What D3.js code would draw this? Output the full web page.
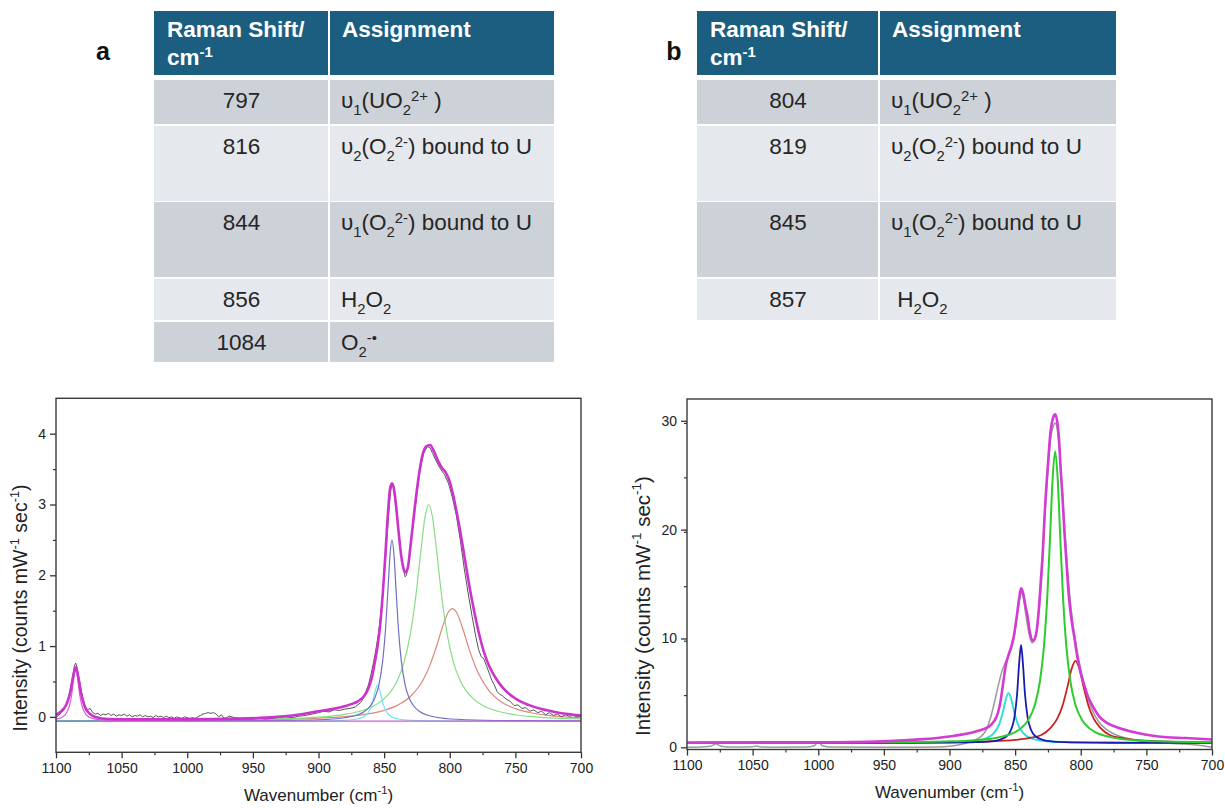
<!DOCTYPE html>
<html>
<head>
<meta charset="utf-8">
<script src="https://cdn.jsdelivr.net/npm/d3@7/dist/d3.min.js"></script>
<style>
  html, body { margin: 0; padding: 0; background: #ffffff; }
  svg { display: block; font-family: "Liberation Sans", Arial, sans-serif; }
</style>
</head>
<body>
<svg id="fig" width="1225" height="808"></svg>
<script>
// ---------------- Table data ----------------
const tableHeader = ["Raman Shift/", "cm", "-1", "Assignment"];
const tableAShift = ["797", "816", "844", "856", "1084"];
const tableAAssign = [
  [["υ"], ["1", "sub"], ["(UO"], ["2", "sub"], ["2+", "sup"], [" )"]],
  [["υ"], ["2", "sub"], ["(O"], ["2", "sub"], ["2-", "sup"], [") bound to U"]],
  [["υ"], ["1", "sub"], ["(O"], ["2", "sub"], ["2-", "sup"], [") bound to U"]],
  [["H"], ["2", "sub"], ["O"], ["2", "sub"]],
  [["O"], ["2", "sub"], ["-•", "sup"]]
];
const tableBShift = ["804", "819", "845", "857"];
const tableBAssign = [
  [["υ"], ["1", "sub"], ["(UO"], ["2", "sub"], ["2+", "sup"], [" )"]],
  [["υ"], ["2", "sub"], ["(O"], ["2", "sub"], ["2-", "sup"], [") bound to U"]],
  [["υ"], ["1", "sub"], ["(O"], ["2", "sub"], ["2-", "sup"], [") bound to U"]],
  [["\u00A0H"], ["2", "sub"], ["O"], ["2", "sub"]]
];

// ---------------- Axis ticks ----------------
const xTicks = [1100, 1050, 1000, 950, 900, 850, 800, 750, 700];
const aYTicks = [0, 1, 2, 3, 4];
const bYTicks = [0, 10, 20, 30];

// ---------------- Spectrum a ----------------
const aMeasured = [[1100,0.0],[1098,0.02],[1096,0.06],[1094,0.1],[1092,0.18],[1090,0.3],[1088,0.5],[1086,0.72],[1085,0.76],[1084,0.7],[1082,0.5],[1080,0.3],[1078,0.16],[1076,0.1],[1074,0.12],[1072,0.06],[1070,0.04],[1068,0.05],[1066,0.02],[1064,0.04],[1062,0.03],[1060,0.05],[1058,0.02],[1056,0.04],[1054,0.01],[1052,0.03],[1050,0.02],[1048,0.04],[1046,0.01],[1044,0.03],[1042,0.0],[1040,0.02],[1038,0.01],[1036,0.03],[1034,0.0],[1032,0.02],[1030,0.0],[1028,0.01],[1026,-0.01],[1024,0.02],[1022,0.0],[1020,0.01],[1018,-0.01],[1016,0.01],[1014,-0.01],[1012,0.0],[1010,-0.02],[1008,0.0],[1006,-0.01],[1004,-0.02],[1002,0.0],[1000,-0.01],[998,-0.02],[996,-0.01],[994,-0.02],[992,0.0],[990,0.02],[988,0.04],[986,0.05],[984,0.06],[982,0.05],[980,0.06],[978,0.04],[976,0.0],[974,0.03],[972,-0.02],[970,-0.01],[968,0.01],[964,-0.01],[960,-0.02],[955,-0.03],[950,-0.03],[945,-0.02],[940,-0.03],[935,-0.02],[930,-0.01],[925,0.0],[920,-0.01],[915,0.01],[910,0.02],[905,0.04],[900,0.06],[896,0.08],[892,0.07],[888,0.1],[884,0.09],[880,0.11],[876,0.12],[872,0.14],[868,0.2],[866,0.26],[864,0.35],[862,0.45],[860,0.6],[858,0.78],[856,0.98],[854,1.22],[852,1.55],[850,1.98],[848,2.5],[846,3.0],[845,3.2],[844,3.28],[843,3.25],[842,3.1],[840,2.8],[838,2.45],[836,2.15],[834,1.98],[833,2.0],[831,2.2],[829,2.55],[826,3.0],[823,3.45],[820,3.72],[817,3.82],[815,3.8],[813,3.72],[810,3.6],[807,3.5],[804,3.42],[801,3.3],[798,3.1],[795,2.85],[792,2.5],[789,2.1],[786,1.75],[783,1.42],[780,1.12],[778,0.95],[776,0.85],[774,0.82],[772,0.72],[770,0.62],[768,0.52],[766,0.45],[764,0.36],[762,0.32],[760,0.3],[757,0.25],[754,0.22],[751,0.16],[748,0.17],[745,0.12],[742,0.13],[739,0.08],[736,0.1],[733,0.06],[730,0.08],[727,0.03],[724,0.06],[721,0.02],[718,0.04],[715,0.0],[712,0.03],[709,0.01],[706,0.02],[703,0.0],[700,0.01]];
const aEnvelope = [[1100,0.03],[1096,0.08],[1092,0.18],[1089,0.36],[1087,0.56],[1085,0.70],[1083,0.56],[1081,0.34],[1078,0.14],[1074,0.04],[1070,0.0],[1060,-0.03],[1040,-0.035],[1000,-0.035],[960,-0.025],[940,-0.01],[920,0.02],[900,0.08],[890,0.11],[880,0.15],[875,0.18],[870,0.22],[865,0.30],[862,0.40],[859,0.58],[857,0.78],[855,1.00],[853,1.30],[851,1.75],[849,2.30],[847,2.90],[845.5,3.22],[844,3.30],[842.5,3.22],[841,3.00],[839,2.62],[837,2.28],[835,2.08],[834,2.04],[832,2.10],[830,2.40],[827,2.90],[824,3.35],[821,3.68],[818,3.82],[815,3.84],[812,3.75],[809,3.62],[806,3.52],[803,3.45],[800,3.32],[797,3.10],[794,2.82],[790,2.40],[786,1.95],[782,1.55],[778,1.20],[774,0.92],[770,0.72],[765,0.55],[760,0.42],[750,0.26],[740,0.17],[730,0.11],[720,0.07],[710,0.04],[700,0.02]];
const aPeak797 = [[1100,-0.055],[1000,-0.049],[950,-0.040],[900,-0.017],[880,0.005],[860,0.050],[850,0.093],[840,0.163],[830,0.288],[820,0.531],[815,0.735],[810,1.001],[805,1.299],[801,1.482],[798,1.53],[795,1.482],[790,1.242],[785,0.943],[780,0.690],[770,0.369],[760,0.205],[750,0.117],[740,0.066],[725,0.022],[700,-0.014]];
const aPeak816 = [[1100,-0.055],[1000,-0.048],[950,-0.038],[900,-0.004],[880,0.036],[870,0.073],[860,0.136],[850,0.254],[845,0.356],[840,0.511],[835,0.760],[830,1.174],[826,1.683],[822,2.345],[819,2.805],[816,3.0],[813,2.805],[810,2.345],[806,1.683],[802,1.174],[797,0.760],[792,0.511],[787,0.356],[782,0.254],[772,0.136],[762,0.073],[750,0.030],[735,0.0],[700,-0.030]];
const aPeak844 = [[1100,-0.059],[1000,-0.057],[950,-0.054],[900,-0.040],[880,-0.012],[870,0.031],[865,0.077],[860,0.168],[857,0.270],[854,0.452],[851,0.805],[849,1.22],[847,1.822],[845.5,2.289],[844,2.5],[842.5,2.289],[841,1.822],[839,1.22],[837,0.805],[834,0.452],[831,0.270],[828,0.168],[823,0.077],[818,0.031],[808,-0.012],[788,-0.040],[750,-0.053],[700,-0.057]];
const aPeak856 = [[1100,-0.06],[900,-0.056],[880,-0.047],[870,-0.026],[865,0.010],[862,0.066],[859,0.195],[857,0.348],[855,0.45],[853,0.348],[851,0.195],[848,0.066],[845,0.010],[840,-0.026],[830,-0.047],[810,-0.056],[700,-0.06]];
const aPeak1084 = [[1100,-0.031],[1095,-0.002],[1091,0.092],[1088,0.32],[1086.5,0.548],[1085,0.70],[1083.5,0.548],[1082,0.32],[1079,0.092],[1075,-0.002],[1070,-0.031],[1060,-0.049],[1000,-0.059],[700,-0.06]];

// ---------------- Spectrum b ----------------
const bMeasured = [[1100,0.0],[1090,0.02],[1082,0.1],[1078,0.3],[1074,0.1],[1065,0.02],[1050,0.05],[1047,0.12],[1044,0.04],[1030,0.0],[1010,0.02],[1003,0.15],[1000,0.5],[997,0.15],[990,0.02],[960,0.0],[930,0.0],[910,0.03],[900,0.1],[890,0.3],[882,0.6],[876,1.0],[872,1.6],[869,2.6],[866,4.0],[863,5.6],[860,7.0],[857,7.9],[855,8.4],[853,9.1],[851,10.0],[849,11.6],[847,13.3],[845.5,14.2],[844,13.9],[842,12.3],[840,10.8],[838,9.8],[837,9.6],[835,9.9],[833,11.2],[831,13.6],[829,17.2],[827.5,21.0],[825,25.4],[823,28.3],[821,29.5],[819.5,29.8],[818,29.3],[816,26.8],[814,23.4],[812,19.6],[810,16.2],[808,13.5],[806,11.4],[803,9.0],[800,7.2],[797,5.6],[794,4.3],[790,3.1],[786,2.3],[780,1.6],[770,1.0],[760,0.7],[750,0.5],[740,0.4],[730,0.35],[720,0.3],[710,0.2],[705,0.1],[700,0.0]];
const bEnvelope = [[1100,0.45],[1000,0.46],[950,0.55],[920,0.75],[900,1.0],[880,1.46],[870,1.9],[866,2.4],[863,3.2],[861,4.3],[859,6.0],[857,7.6],[855,8.5],[853,9.2],[851,10.2],[849,11.8],[847,13.6],[845.5,14.6],[844,14.2],[842,12.9],[840.9,12.3],[838.5,10.4],[836.4,9.8],[834,10.4],[832,12.6],[830.4,15.3],[829,17.8],[827.5,21.4],[825,26.0],[823,29.0],[821,30.3],[819.5,30.6],[818,30.0],[816,27.2],[815.5,26.0],[814,23.2],[812.5,19.9],[811,17.2],[809.6,14.7],[808,12.6],[806,10.9],[805,10.2],[803,8.6],[800.6,7.1],[797,5.6],[794.6,4.7],[790,3.6],[785.7,2.8],[780,2.25],[770.7,1.77],[760,1.4],[740.9,1.0],[720,0.85],[700,0.72]];
const bPeak804 = [[1100,0.41],[950,0.43],[900,0.47],[870,0.54],[850,0.68],[840,0.84],[830,1.13],[823,1.78],[818,2.61],[814,3.78],[810,5.62],[807,7.20],[804,7.95],[801,7.20],[798,5.62],[794,3.78],[790,2.61],[785,1.78],[778,1.13],[768,0.84],[758,0.68],[738,0.54],[708,0.47],[700,0.46]];
const bPeak819 = [[1100,0.41],[1000,0.43],[950,0.46],[900,0.55],[880,0.66],[870,0.77],[860,0.98],[850,1.40],[845,1.81],[840,2.52],[835,3.89],[831,6.14],[828,9.31],[825.5,13.8],[823.5,18.95],[821.5,24.52],[819.5,27.2],[817.5,24.52],[815.5,18.95],[813.5,13.8],[811,9.31],[808,6.14],[804,3.89],[799,2.52],[794,1.81],[789,1.40],[779,0.98],[769,0.77],[759,0.66],[740,0.55],[700,0.47]];
const bPeak845 = [[1100,0.40],[950,0.41],[900,0.43],[880,0.47],[870,0.53],[862,0.69],[857,0.97],[853,1.64],[850.5,2.78],[848.5,4.90],[847,7.60],[845.5,9.40],[844,7.60],[842.5,4.90],[840.5,2.78],[838,1.64],[834,0.97],[829,0.69],[821,0.53],[811,0.47],[791,0.43],[750,0.41],[700,0.40]];
const bPeak857 = [[1100,0.40],[950,0.42],[900,0.47],[880,0.61],[872,0.84],[866,1.32],[862,2.16],[859,3.41],[857,4.46],[855,5.0],[853,4.46],[851,3.41],[848,2.16],[844,1.32],[838,0.84],[830,0.61],[810,0.47],[760,0.42],[700,0.40]];

// ---------------- Helpers ----------------
const svg = d3.select("#fig");

function rich(textSel, parts, fs, supShift) {
  let cur = 0;
  const up = supShift === undefined ? 0.42 : supShift;
  parts.forEach(p => {
    const t = p[0], m = p[1];
    const target = m === "sub" ? 0.3 * fs : (m === "sup" ? -up * fs : 0);
    textSel.append("tspan")
      .attr("dy", target - cur)
      .attr("font-size", m ? fs * 0.66 : fs)
      .text(t);
    cur = target;
  });
}

const TFS = 22.5;

function drawTable(x0, xDiv, x1, shifts, assigns, label, labelX) {
  const g = svg.append("g");
  const headerColor = "#1b5e80";
  const dark = "#cdd1d8", light = "#e5e8ec";
  const rowTops = [80, 126, 202, 279, 322];
  const rowHeights = [44, 75, 75, 41, 40];
  g.append("rect").attr("x", x0).attr("y", 11).attr("width", xDiv - x0 - 1).attr("height", 64).attr("fill", headerColor);
  g.append("rect").attr("x", xDiv + 1).attr("y", 11).attr("width", x1 - xDiv - 1).attr("height", 64).attr("fill", headerColor);
  g.append("text").attr("x", x0 + 13).attr("y", 37).attr("fill", "#fff").attr("font-weight", "bold").attr("font-size", TFS).text(tableHeader[0]);
  const cm = g.append("text").attr("x", x0 + 13).attr("y", 65).attr("fill", "#fff").attr("font-weight", "bold");
  rich(cm, [[tableHeader[1]], [tableHeader[2], "sup"]], TFS, 0.36);
  g.append("text").attr("x", xDiv + 13).attr("y", 37).attr("fill", "#fff").attr("font-weight", "bold").attr("font-size", TFS).text(tableHeader[3]);
  shifts.forEach((s, i) => {
    const fill = i % 2 === 0 ? dark : light;
    g.append("rect").attr("x", x0).attr("y", rowTops[i]).attr("width", xDiv - x0 - 1).attr("height", rowHeights[i]).attr("fill", fill);
    g.append("rect").attr("x", xDiv + 1).attr("y", rowTops[i]).attr("width", x1 - xDiv - 1).attr("height", rowHeights[i]).attr("fill", fill);
    g.append("text").attr("x", (x0 + xDiv) / 2).attr("y", rowTops[i] + 28).attr("text-anchor", "middle")
      .attr("font-size", TFS).attr("fill", "#262626").text(s);
    const t = g.append("text").attr("x", xDiv + 12).attr("y", rowTops[i] + 28).attr("fill", "#262626").style("white-space", "pre");
    rich(t, assigns[i], TFS, 0.32);
  });
  svg.append("text").attr("x", labelX).attr("y", 60).attr("text-anchor", "middle").attr("font-weight", "bold")
    .attr("font-size", 25).attr("fill", "#111").text(label);
}

drawTable(154, 329, 554, tableAShift, tableAAssign, "a", 103);
drawTable(697, 879, 1116, tableBShift, tableBAssign, "b", 674);

function drawChart(opts) {
  const { left, right, top, bottom, yDomain, yTicks, yMinorStep, series, id, yLabelY, yLabelX, xLabelY, yLabelSize } = opts;
  const x = d3.scaleLinear().domain([1100, 700]).range([left, right]);
  const y = d3.scaleLinear().domain(yDomain).range([bottom, top]);
  const g = svg.append("g");
  g.append("clipPath").attr("id", id).append("rect")
    .attr("x", left).attr("y", top).attr("width", right - left).attr("height", bottom - top);

  const plot = g.append("g").attr("clip-path", `url(#${id})`);
  const line = d3.line().x(d => x(d[0])).y(d => y(d[1]));
  series.forEach(s => {
    plot.append("path").datum(s.data)
      .attr("fill", "none").attr("stroke", s.color).attr("stroke-width", s.width)
      .attr("stroke-linejoin", "round")
      .attr("d", line.curve(s.smooth ? d3.curveMonotoneX : d3.curveLinear));
  });

  const fmt = d3.format("d");
  const xMinor = d3.range(1075, 700, -50);
  const xAxis = d3.axisBottom(x).tickValues(xTicks).tickFormat(fmt).tickSize(6).tickSizeOuter(0).tickPadding(5);
  const gx = g.append("g").attr("transform", `translate(0,${bottom})`).call(xAxis);
  gx.selectAll("line").attr("stroke", "#333").attr("stroke-width", 1.3);
  gx.selectAll("text").attr("font-size", 14).attr("fill", "#222").attr("font-family", "'Liberation Sans', Arial, sans-serif");
  gx.select(".domain").remove();
  g.append("g").attr("transform", `translate(0,${bottom})`)
    .call(d3.axisBottom(x).tickValues(xMinor).tickSize(3).tickFormat(""))
    .call(a => { a.select(".domain").remove(); a.selectAll("line").attr("stroke", "#333").attr("stroke-width", 1.2); });

  const yAxis = d3.axisLeft(y).tickValues(yTicks).tickFormat(fmt).tickSize(6).tickSizeOuter(0).tickPadding(4);
  const gy = g.append("g").attr("transform", `translate(${left},0)`).call(yAxis);
  gy.selectAll("line").attr("stroke", "#333").attr("stroke-width", 1.3);
  gy.selectAll("text").attr("font-size", 14).attr("fill", "#222").attr("font-family", "'Liberation Sans', Arial, sans-serif");
  gy.select(".domain").remove();
  const yMinor = d3.range(yDomain[0], yDomain[1] + 1e-9, yMinorStep)
    .map(v => Math.round(v * 1000) / 1000)
    .filter(v => !yTicks.includes(v) && v > yDomain[0] && v < yDomain[1]);
  g.append("g").attr("transform", `translate(${left},0)`)
    .call(d3.axisLeft(y).tickValues(yMinor).tickSize(3).tickFormat(""))
    .call(a => { a.select(".domain").remove(); a.selectAll("line").attr("stroke", "#333").attr("stroke-width", 1.2); });

  g.append("rect").attr("x", left).attr("y", top).attr("width", right - left).attr("height", bottom - top)
    .attr("fill", "none").attr("stroke", "#3a3a3a").attr("stroke-width", 1.4);

  const xl = g.append("text").attr("x", (left + right) / 2).attr("y", xLabelY).attr("text-anchor", "middle").attr("fill", "#222");
  rich(xl, [["Wavenumber (cm"], ["-1", "sup"], [")"]], 17);
  const yl = g.append("text").attr("transform", `translate(${yLabelX},${yLabelY}) rotate(-90)`).attr("text-anchor", "middle").attr("fill", "#222");
  rich(yl, [["Intensity (counts mW"], ["-1", "sup"], [" sec"], ["-1", "sup"], [")"]], yLabelSize);
}

drawChart({
  id: "clipA", left: 56, right: 581, top: 398.3, bottom: 752.3,
  yDomain: [-0.5, 4.5], yTicks: aYTicks, yMinorStep: 0.5,
  yLabelX: 27, yLabelY: 608, xLabelY: 801, yLabelSize: 19.5,
  series: [
    { data: aPeak797, color: "#d98a7c", width: 1.2, smooth: true },
    { data: aPeak816, color: "#86dd86", width: 1.2, smooth: true },
    { data: aPeak856, color: "#6fe3ea", width: 1.2, smooth: true },
    { data: aPeak844, color: "#6f70c2", width: 1.2, smooth: true },
    { data: aPeak1084, color: "#d45ad4", width: 1.2, smooth: true },
    { data: aMeasured, color: "#555555", width: 1, smooth: false },
    { data: aEnvelope, color: "#cc33cc", width: 2.6, smooth: true }
  ]
});

drawChart({
  id: "clipB", left: 687, right: 1212, top: 399, bottom: 749.5,
  yDomain: [-0.2, 32], yTicks: bYTicks, yMinorStep: 5,
  yLabelX: 650, yLabelY: 606, xLabelY: 798, yLabelSize: 20.5,
  series: [
    { data: bMeasured, color: "#9a9a9a", width: 1.5, smooth: true },
    { data: bPeak857, color: "#33dede", width: 2, smooth: true },
    { data: bPeak804, color: "#cc2020", width: 1.8, smooth: true },
    { data: bPeak845, color: "#1a1ab0", width: 1.8, smooth: true },
    { data: bPeak819, color: "#2ccc2c", width: 2, smooth: true },
    { data: bEnvelope, color: "#d23cd2", width: 2.6, smooth: true }
  ]
});
</script>
</body>
</html>
